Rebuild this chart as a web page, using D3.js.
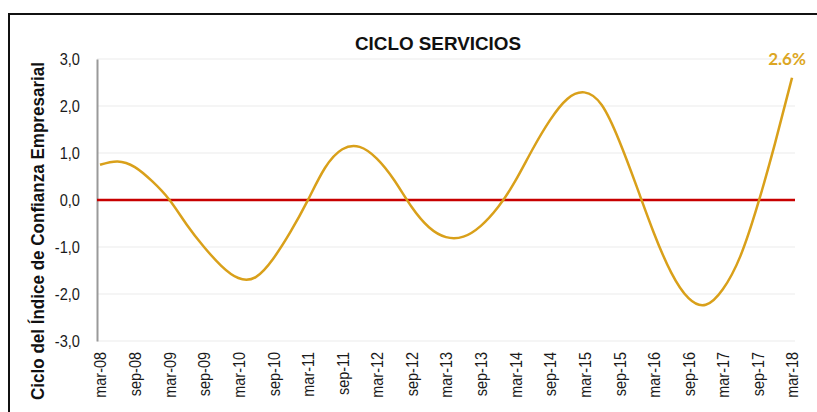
<!DOCTYPE html>
<html>
<head>
<meta charset="utf-8">
<script src="https://cdn.jsdelivr.net/npm/d3@7"></script>
<style>
  body { margin: 0; background: #fff; }
  text { font-family: "Liberation Sans", Arial, sans-serif; }
</style>
</head>
<body>
<script>
// quarterly readings of the cycle, mar-08 .. mar-18
var months = ["2008-03","2008-06","2008-09","2008-12","2009-03","2009-06","2009-09","2009-12",
  "2010-03","2010-06","2010-09","2010-12","2011-03","2011-06","2011-09","2011-12",
  "2012-03","2012-06","2012-09","2012-12","2013-03","2013-06","2013-09","2013-12",
  "2014-03","2014-06","2014-09","2014-12","2015-03","2015-06","2015-09","2015-12",
  "2016-03","2016-06","2016-09","2016-12","2017-03","2017-06","2017-09","2017-12","2018-03"];
var ciclo = [0.75, 0.82, 0.70, 0.40, 0.01, -0.52, -1.00, -1.40,
  -1.66, -1.64, -1.25, -0.68, -0.02, 0.68, 1.08, 1.13,
  0.88, 0.42, -0.15, -0.58, -0.79, -0.78, -0.55, -0.15,
  0.40, 1.08, 1.70, 2.15, 2.29, 2.02, 1.26, 0.30,
  -0.69, -1.54, -2.09, -2.23, -1.90, -1.20, -0.10, 1.20, 2.60];
var tickLabels = ["mar-08","sep-08","mar-09","sep-09","mar-10","sep-10","mar-11","sep-11",
  "mar-12","sep-12","mar-13","sep-13","mar-14","sep-14","mar-15","sep-15",
  "mar-16","sep-16","mar-17","sep-17","mar-18"];
var yTicks = [3, 2, 1, 0, -1, -2, -3];
var lastLabel = "2.6%";

var width = 817, height = 412;
var parse = d3.timeParse("%Y-%m");
var data = months.map(function (m, i) { return { date: parse(m), value: ciclo[i] }; });

var svg = d3.select("body").append("svg")
    .attr("width", width)
    .attr("height", height);

// outer frame (top and left)
svg.append("path")
    .attr("d", "M9,412V14H817")
    .attr("fill", "none")
    .attr("stroke", "#111")
    .attr("stroke-width", 2);

var xScale = d3.scaleTime()
    .domain([parse("2008-03"), parse("2018-03")])
    .range([100, 792]);

var yScale = d3.scaleLinear()
    .domain([-3, 3])
    .range([341, 59]);

// gridlines
svg.append("g")
    .selectAll("line")
    .data(yTicks.filter(function (d) { return d !== 0; }))
    .enter().append("line")
    .attr("x1", 97).attr("x2", 795)
    .attr("y1", function (d) { return yScale(d); })
    .attr("y2", function (d) { return yScale(d); })
    .attr("stroke", "#ebebeb")
    .attr("stroke-width", 1);

var yAxis = d3.axisLeft(yScale)
    .tickValues(yTicks)
    .tickSize(0)
    .tickFormat(function (d) { return d3.format(".1f")(d).replace(".", ",").replace("−", "-"); });

var gy = svg.append("g")
    .attr("transform", "translate(97,0)")
    .call(yAxis);
gy.select(".domain").attr("stroke", "#9a9a9a").attr("stroke-width", 2);
gy.selectAll("text")
    .attr("font-size", 17)
    .attr("fill", "#1a1a1a")
    .attr("x", 0)
    .attr("transform", "translate(-17,0) scale(0.86,1)");

var xTickDates = tickLabels.map(function (t, i) { return d3.timeMonth.offset(parse("2008-03"), i * 6); });
var xAxis = d3.axisBottom(xScale)
    .tickValues(xTickDates)
    .tickSize(0)
    .tickFormat(function (d, i) { return tickLabels[i]; });

var gx = svg.append("g")
    .attr("transform", "translate(0,341)")
    .call(xAxis);
gx.select(".domain").remove();
gx.selectAll("text")
    .attr("font-size", 17)
    .attr("fill", "#1a1a1a")
    .attr("transform", "translate(0,11) rotate(-90) scale(0.85,1)")
    .attr("text-anchor", "end")
    .attr("dy", "0.35em")
    .attr("x", 0)
    .attr("y", 0);

// zero line
svg.append("line")
    .attr("x1", 97).attr("x2", 795)
    .attr("y1", yScale(0)).attr("y2", yScale(0))
    .attr("stroke", "#c80000")
    .attr("stroke-width", 2.5);

var lineFunc = d3.line()
    .x(function (d) { return xScale(d.date); })
    .y(function (d) { return yScale(d.value); })
    .curve(d3.curveNatural);

svg.append("path")
    .attr("d", lineFunc(data))
    .attr("stroke", "#d9a01a")
    .attr("stroke-width", 2.5)
    .attr("fill", "none");

var last = data[data.length - 1];
svg.append("text")
    .attr("x", xScale(last.date) - 5)
    .attr("y", yScale(last.value) - 13)
    .attr("text-anchor", "middle")
    .attr("font-size", 17)
    .attr("font-weight", "bold")
    .attr("fill", "#dca623")
    .style("font-family", "Lato, 'Open Sans', sans-serif")
    .text(lastLabel);

svg.append("text")
    .attr("x", 438)
    .attr("y", 50)
    .attr("text-anchor", "middle")
    .attr("font-size", 19)
    .attr("font-weight", "bold")
    .attr("fill", "#111")
    .attr("textLength", 166)
    .attr("lengthAdjust", "spacingAndGlyphs")
    .text("CICLO SERVICIOS");

svg.append("text")
    .attr("transform", "translate(44,231) rotate(-90)")
    .attr("text-anchor", "middle")
    .attr("font-size", 18)
    .attr("font-weight", "bold")
    .attr("fill", "#111")
    .attr("textLength", 338)
    .attr("lengthAdjust", "spacingAndGlyphs")
    .text("Ciclo del Índice de Confianza Empresarial");
</script>
</body>
</html>
